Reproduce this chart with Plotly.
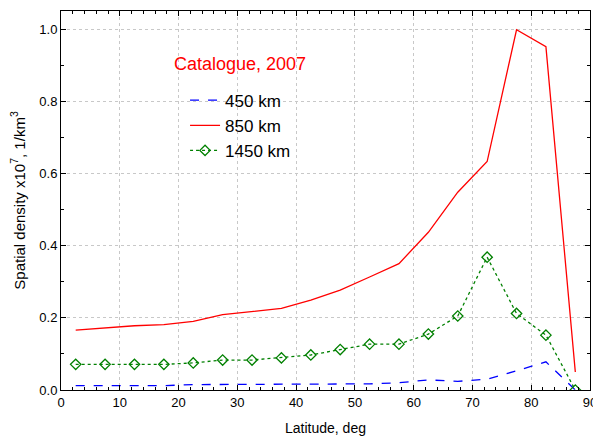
import plotly.graph_objects as go

latitude = [2.5, 7.5, 12.5, 17.5, 22.5, 27.5, 32.5, 37.5, 42.5, 47.5,
            52.5, 57.5, 62.5, 67.5, 72.5, 77.5, 82.5, 87.5]
d450 = [0.012, 0.012, 0.012, 0.012, 0.015, 0.015, 0.015, 0.015, 0.015, 0.017,
        0.017, 0.020, 0.028, 0.024, 0.030, 0.053, 0.078, 0.0]
d850 = [0.166, 0.173, 0.178, 0.181, 0.190, 0.209, 0.218, 0.226, 0.249, 0.277,
        0.313, 0.350, 0.437, 0.548, 0.633, 0.998, 0.951, 0.050]
d1450 = [0.071, 0.071, 0.071, 0.071, 0.075, 0.083, 0.083, 0.089, 0.097, 0.112,
         0.127, 0.127, 0.155, 0.205, 0.368, 0.212, 0.152, 0.0]

FONT = "Liberation Sans, Arial, sans-serif"

fig = go.Figure()
fig.add_trace(go.Scatter(x=latitude, y=d450, name="450 km", mode="lines",
                         line=dict(color="#0000ff", width=1.3, dash="dash")))
fig.add_trace(go.Scatter(x=latitude, y=d850, name="850 km", mode="lines",
                         line=dict(color="#ff0000", width=1.3)))
fig.add_trace(go.Scatter(x=latitude, y=d1450, name="1450 km", mode="lines+markers",
                         line=dict(color="#008000", width=1.3, dash="dot"),
                         marker=dict(symbol="diamond-open", size=8,
                                     color="#008000", line=dict(width=1.3))))

axis_common = dict(
    showline=True, linecolor="black", linewidth=1, mirror="allticks",
    ticks="inside", ticklen=5, tickcolor="black",
    showgrid=True, gridcolor="#c8c8c8", griddash="dot", gridwidth=1,
    zeroline=False, automargin=False, ticklabeloverflow="allow",
    tickfont=dict(family=FONT, size=13, color="black"),
)

fig.update_xaxes(range=[0, 90], dtick=10, tick0=0,
                 minor=dict(dtick=2, ticks="inside", ticklen=3, tickcolor="black", showgrid=False),
                 title=dict(text="Latitude, deg", font=dict(family=FONT, size=14, color="black"),
                            standoff=14),
                 **axis_common)
fig.update_yaxes(range=[0, 1.05], dtick=0.2, tick0=0, tickformat=".1f",
                 minor=dict(dtick=0.1, ticks="inside", ticklen=3, tickcolor="black", showgrid=False),
                 title=dict(text="Spatial density x10<sup>7</sup>, 1/km<sup>3</sup>",
                            font=dict(family=FONT, size=15, color="black"), standoff=10),
                 **axis_common)

fig.add_annotation(text="Catalogue, 2007", xref="paper", yref="paper",
                   x=0.338, y=0.892, showarrow=False,
                   font=dict(family=FONT, size=18, color="#ff0000"))

fig.update_layout(
    width=593, height=441,
    margin=dict(l=61, r=3, t=11, b=51),
    plot_bgcolor="white", paper_bgcolor="white",
    legend=dict(x=0.2345, y=0.811, xanchor="left", yanchor="top",
                bgcolor="rgba(0,0,0,0)", borderwidth=0,
                font=dict(family=FONT, size=17, color="black"),
                tracegroupgap=0),
    showlegend=True,
)

fig.write_html("out.html", config={"displayModeBar": False},
               post_script="document.body.style.margin='0px';document.body.style.overflow='hidden';")
